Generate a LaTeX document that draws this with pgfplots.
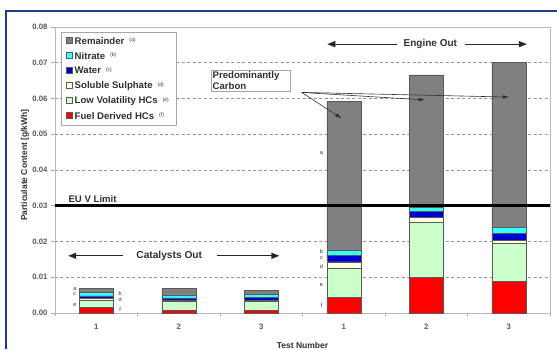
\documentclass[border=0pt]{standalone}
\usepackage{pgfplots}
\pgfplotsset{compat=1.18}
\usepackage{fontspec}
\setmainfont{Liberation Sans}
\usetikzlibrary{arrows.meta}

\definecolor{remcol}{HTML}{808080}
\definecolor{nitcol}{HTML}{33FFFF}
\definecolor{watcol}{HTML}{0000CC}
\definecolor{sulcol}{HTML}{FFFFDD}
\definecolor{lvhcol}{HTML}{CCFFCC}
\definecolor{fdhcol}{HTML}{FF0000}
\definecolor{framecol}{HTML}{1F3C88}
\definecolor{txtcol}{HTML}{303030}

\newcommand{\ctag}[1]{\hspace{5pt}{\fontsize{5}{5}\selectfont\mdseries\raisebox{2.5pt}{(#1)}}}
\tikzset{
  bigarrow/.style={-{Triangle[length=8pt,width=6pt]}, line width=1.3pt, black!85},
  thinarrow/.style={-{Triangle[length=6pt,width=3.5pt]}, line width=0.6pt, black!80},
  letter/.style={font=\fontsize{5.5}{6}\selectfont, text=txtcol, inner sep=0pt},
}

\begin{document}
\begin{tikzpicture}
\path[use as bounding box] (-55pt,-36pt) rectangle (502pt,313pt);
% slide frame
\draw[framecol, line width=1.4pt] (-49pt,-36pt) -- (-49pt,302pt) -- (502pt,302pt);
\begin{axis}[
  scale only axis, width=495pt, height=286pt,
  ybar stacked, bar width=34pt,
  xmin=-0.5, xmax=5.5, ymin=0, ymax=0.08,
  xtick={0,1,2,3,4,5}, xticklabels={1,2,3,1,2,3},
  major x tick style={draw=none},
  minor xtick={-0.5,0.5,1.5,2.5,3.5,4.5,5.5},
  minor tick length=3pt,
  ytick={0,0.01,0.02,0.03,0.04,0.05,0.06,0.07,0.08},
  scaled y ticks=false,
  yticklabel style={/pgf/number format/fixed, /pgf/number format/fixed zerofill, /pgf/number format/precision=2},
  /pgf/number format/assume math mode=true,
  ytick pos=left, xtick pos=bottom, tick align=outside,
  major tick length=4pt,
  tick style={gray!70, line width=0.6pt},
  ticklabel style={font=\fontsize{7.8}{8}\selectfont\bfseries, text=txtcol!80},
  xticklabel style={yshift=-4pt},
  ymajorgrids, grid style={dashed, dash pattern=on 3pt off 2.5pt, gray!85, line width=0.6pt},
  axis line style={gray!55, line width=0.8pt},
  xlabel={Test Number}, ylabel={Particulate Content [g/kWh]},
  label style={font=\fontsize{8.5}{9}\selectfont\bfseries, text=txtcol},
  xlabel style={at={(axis description cs:0.5,0)}, anchor=center, yshift=-32pt},
  ylabel style={at={(axis description cs:-0.0606,0.517)}, anchor=center},
  legend style={at={(0.012,0.983)}, anchor=north west, draw=gray!70, line width=0.6pt,
    font=\fontsize{9.6}{11}\selectfont\bfseries, text=txtcol,
    row sep=2.6pt, inner xsep=5pt, inner ysep=3pt},
  legend cell align=left, reverse legend,
  every axis plot/.append style={draw=black!65, line width=0.5pt},
  legend image code/.code={\draw[#1] (0pt,-2.2pt) rectangle (6pt,3.8pt);},
  after end axis/.append code={
    % EU V limit
    \draw[black, line width=2.6pt] (axis cs:-0.5,0.03) -- (axis cs:5.5,0.03);
    \node[anchor=south west, inner sep=1pt, font=\fontsize{9.6}{10}\selectfont\bfseries, text=txtcol] at (axis cs:-0.35,0.0306) {EU V Limit};
    % group annotations
    \node[font=\fontsize{10.2}{11}\selectfont\bfseries, text=txtcol] at (axis cs:0.885,0.016) {Catalysts Out};
    \draw[bigarrow] (axis cs:0.33,0.016) -- (axis cs:-0.34,0.016);
    \draw[bigarrow] (axis cs:1.46,0.016) -- (axis cs:2.22,0.016);
    \node[font=\fontsize{10}{11}\selectfont\bfseries, text=txtcol] at (axis cs:4.05,0.0752) {Engine Out};
    \draw[bigarrow] (axis cs:3.64,0.0752) -- (axis cs:2.80,0.0752);
    \draw[bigarrow] (axis cs:4.47,0.0752) -- (axis cs:5.22,0.0752);
    % carbon callout
    \node[anchor=north west, draw=gray!70, fill=white, line width=0.6pt, align=left, inner sep=1.5pt,
      text width=76pt, font=\fontsize{9.6}{11}\selectfont\bfseries, text=txtcol]
      at (axis cs:1.39,0.068) {Predominantly\\Carbon};
    \draw[thinarrow] (axis cs:2.49,0.0617) -- (axis cs:2.97,0.0545);
    \draw[thinarrow] (axis cs:2.49,0.0617) -- (axis cs:3.98,0.0596);
    \draw[thinarrow] (axis cs:2.49,0.0617) -- (axis cs:5.0,0.0604);
    % component letters
    \node[letter] at (axis cs:2.73,0.0448) {a};
    \node[letter] at (axis cs:2.73,0.0171) {b};
    \node[letter] at (axis cs:2.73,0.0154) {c};
    \node[letter] at (axis cs:2.73,0.0131) {d};
    \node[letter] at (axis cs:2.73,0.0078) {e};
    \node[letter] at (axis cs:2.73,0.0020) {f};
    \node[letter] at (axis cs:-0.26,0.0068) {a};
    \node[letter] at (axis cs:-0.26,0.0053) {c};
    \node[letter] at (axis cs:-0.26,0.0023) {e};
    \node[letter] at (axis cs:0.29,0.0054) {b};
    \node[letter] at (axis cs:0.29,0.0037) {d};
    \node[letter] at (axis cs:0.29,0.0011) {f};
  },
]
% Fuel derived HCs (f)
\addplot[fill=fdhcol] coordinates {(0,0.0015) (1,0.0007) (2,0.0007) (3,0.0044) (4,0.0099) (5,0.0088)};
% Low volatility HCs (e)
\addplot[fill=lvhcol] coordinates {(0,0.0021) (1,0.0025) (2,0.0025) (3,0.0082) (4,0.0156) (5,0.0107)};
% Soluble sulphate (d)
\addplot[fill=sulcol] coordinates {(0,0.0004) (1,0.0004) (2,0.0003) (3,0.0017) (4,0.0012) (5,0.0009)};
% Water (c)
\addplot[fill=watcol] coordinates {(0,0.0008) (1,0.0006) (2,0.0008) (3,0.0019) (4,0.0018) (5,0.0019)};
% Nitrate (b)
\addplot[fill=nitcol] coordinates {(0,0.0009) (1,0.0009) (2,0.0009) (3,0.0014) (4,0.0011) (5,0.0016)};
% Remainder (a)
\addplot[fill=remcol] coordinates {(0,0.0012) (1,0.0018) (2,0.0012) (3,0.0415) (4,0.0370) (5,0.0462)};
\legend{Fuel Derived HCs\ctag{f}, Low Volatility HCs\ctag{e}, Soluble Sulphate\ctag{d}, Water\ctag{c}, Nitrate\ctag{b}, Remainder\ctag{a}}
\end{axis}
\end{tikzpicture}
\end{document}
